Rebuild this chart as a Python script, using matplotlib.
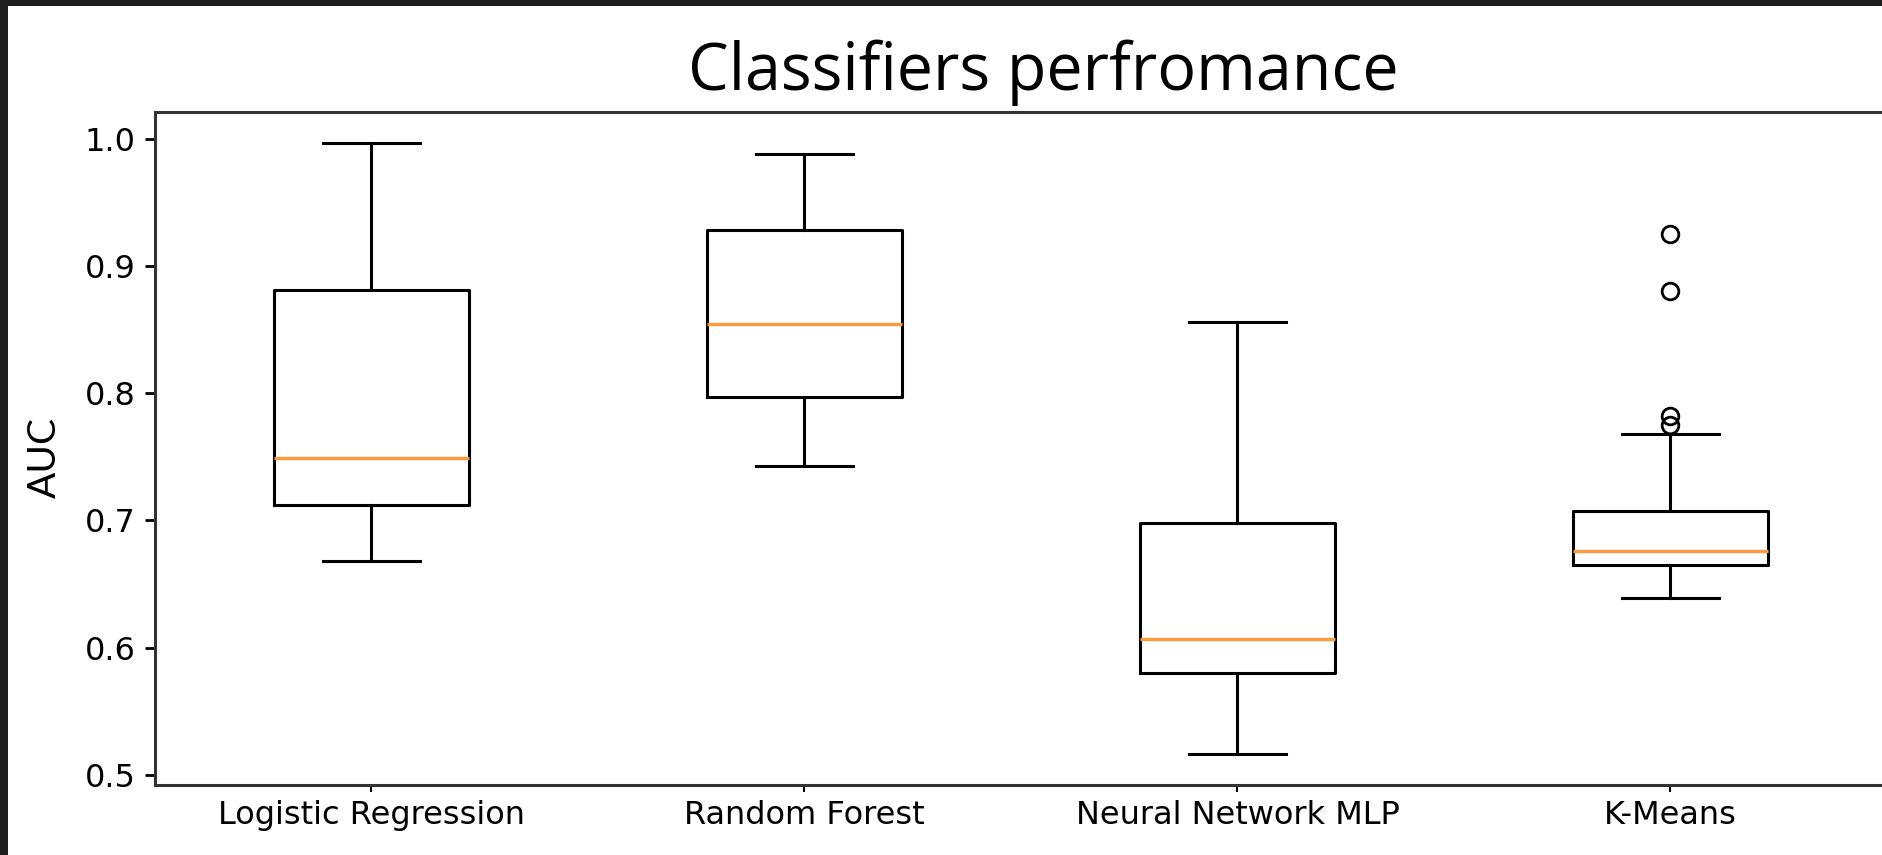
import matplotlib
matplotlib.use("Agg")
import matplotlib.pyplot as plt
from matplotlib.patches import Rectangle

# AUC summary per classifier (box plot statistics)
classifiers = ['Logistic Regression', 'Random Forest', 'Neural Network MLP', 'K-Means']
whisker_low = [0.668, 0.743, 0.516, 0.639]
quartile_1 = [0.712, 0.797, 0.580, 0.665]
medians = [0.749, 0.854, 0.607, 0.676]
quartile_3 = [0.881, 0.928, 0.698, 0.707]
whisker_high = [0.997, 0.988, 0.856, 0.768]
outliers = [[], [], [], [0.925, 0.880, 0.782, 0.775]]

W, H, DPI = 1883, 855, 100


def build_stats():
    stats = []
    for i, name in enumerate(classifiers):
        stats.append({'label': name, 'whislo': whisker_low[i], 'q1': quartile_1[i],
                      'med': medians[i], 'q3': quartile_3[i], 'whishi': whisker_high[i],
                      'fliers': outliers[i]})
    return stats


def main():
    fig = plt.figure(figsize=(W / DPI, H / DPI), dpi=DPI, facecolor='#1e1e1e')
    # white slide panel
    fig.patches.append(Rectangle((8 / W, 0), 1, 1 - 6 / H, transform=fig.transFigure,
                                 facecolor='white', edgecolor='none', zorder=-5))

    ax = fig.add_axes([155 / W, 1 - 785 / H, 1732 / W, 673 / H])
    ax.set_zorder(2)
    line = dict(color='black', linewidth=2.2)
    ax.bxp(build_stats(), boxprops=line, whiskerprops=line, capprops=line,
           medianprops=dict(color='#ff9a3c', linewidth=2.4),
           flierprops=dict(marker='o', markerfacecolor='none', markeredgecolor='black',
                           markersize=12, markeredgewidth=2))

    for s in ax.spines.values():
        s.set_linewidth(2.2)
        s.set_color('#333333')
    ax.set_yticks([0.5, 0.6, 0.7, 0.8, 0.9, 1.0])
    ax.tick_params(axis='y', labelsize=23, length=7, width=2, pad=7)
    ax.tick_params(axis='x', labelsize=23, length=5, width=1.5, pad=6)

    fig.text(1043 / W, 1 - 90 / H, 'Classifiers perfromance', ha='center', va='baseline',
             fontsize=46.5, family='Open Sans')
    fig.text(45 / W, 1 - 457 / H, 'AUC', ha='center', va='center', rotation=90,
             fontsize=28, family='Lato')

    fig.savefig('out.png', dpi=DPI, facecolor=fig.get_facecolor())


if __name__ == "__main__":
    main()
